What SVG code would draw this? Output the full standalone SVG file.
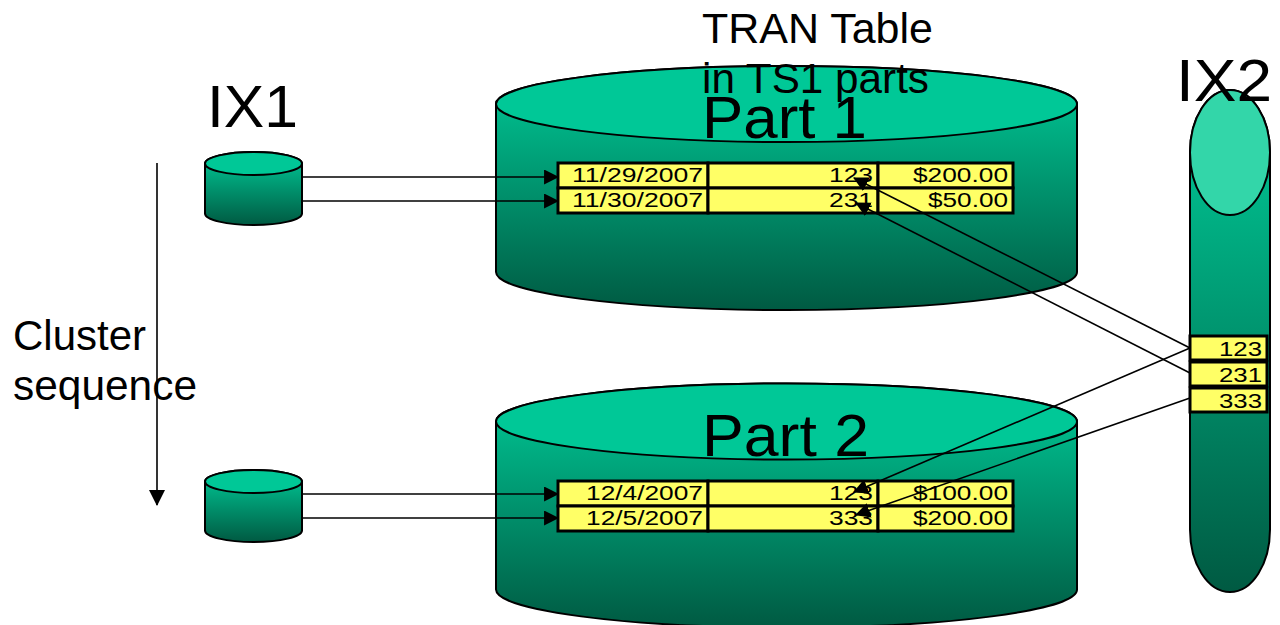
<svg xmlns="http://www.w3.org/2000/svg" width="1280" height="625" viewBox="0 0 1280 625">
  <defs>
    <linearGradient id="body" x1="0" y1="0" x2="0" y2="1">
      <stop offset="0" stop-color="#00CC99"/>
      <stop offset="1" stop-color="#005A42"/>
    </linearGradient>
    <marker id="head" viewBox="0 0 14 14" refX="13" refY="7" markerWidth="15" markerHeight="15" markerUnits="userSpaceOnUse" orient="auto">
      <path d="M0,0 L14,7 L0,14 Z" fill="#000"/>
    </marker>
    <marker id="headDown" viewBox="0 0 16 16" refX="15" refY="8" markerWidth="16" markerHeight="16" markerUnits="userSpaceOnUse" orient="auto">
      <path d="M0,0 L16,8 L0,16 Z" fill="#000"/>
    </marker>
  </defs>
  <style>
    .body { fill: url(#body); stroke: #000; stroke-width: 2; }
    .face { fill: #00C897; stroke: #000; stroke-width: 2; }
    .faceLight { fill: #33D6A9; stroke: #000; stroke-width: 2; }
    .cell { fill: #FFFF66; stroke: #000; stroke-width: 3; }
    .cellTxt { font-family: "Liberation Sans", Arial, sans-serif; font-size: 20.5px; fill: #000; text-anchor: end; }
    .big { font-family: "Liberation Sans", Arial, sans-serif; font-size: 60px; fill: #000; }
    .mid { font-family: "Liberation Sans", Arial, sans-serif; font-size: 42px; fill: #000; }
    .conn { stroke: #000; stroke-width: 1.6; fill: none; }
  </style>

  <rect width="1280" height="625" fill="#FFFFFF"/>

  <!-- Part 1 partition cylinder -->
  <g id="part1">
    <path class="body" d="M496,104 L496,272 A290.5,38 0 0 0 1077,272 L1077,104 A290.5,38 0 0 0 496,104 Z"/>
    <ellipse class="face" cx="786.5" cy="104" rx="290.5" ry="38"/>
    <text class="big" x="702" y="138" font-size="58" textLength="165" lengthAdjust="spacingAndGlyphs">Part 1</text>
    <g id="part1-rows">
      <rect class="cell" x="558" y="163" width="150" height="25"/>
      <rect class="cell" x="708" y="163" width="170" height="25"/>
      <rect class="cell" x="878" y="163" width="135" height="25"/>
      <rect class="cell" x="558" y="188" width="150" height="25"/>
      <rect class="cell" x="708" y="188" width="170" height="25"/>
      <rect class="cell" x="878" y="188" width="135" height="25"/>
      <text class="cellTxt" x="703" y="182" textLength="131" lengthAdjust="spacingAndGlyphs">11/29/2007</text>
      <text class="cellTxt" x="873" y="182" textLength="44" lengthAdjust="spacingAndGlyphs">123</text>
      <text class="cellTxt" x="1008" y="182" textLength="95" lengthAdjust="spacingAndGlyphs">$200.00</text>
      <text class="cellTxt" x="703" y="207" textLength="131" lengthAdjust="spacingAndGlyphs">11/30/2007</text>
      <text class="cellTxt" x="873" y="207" textLength="44" lengthAdjust="spacingAndGlyphs">231</text>
      <text class="cellTxt" x="1008" y="207" textLength="80" lengthAdjust="spacingAndGlyphs">$50.00</text>
    </g>
  </g>

  <!-- Part 2 partition cylinder -->
  <g id="part2">
    <path class="body" d="M496,421.5 L496,589.5 A290.5,38 0 0 0 1077,589.5 L1077,421.5 A290.5,38 0 0 0 496,421.5 Z"/>
    <ellipse class="face" cx="786.5" cy="421.5" rx="290.5" ry="38"/>
    <text class="big" x="702" y="456" font-size="58" textLength="167" lengthAdjust="spacingAndGlyphs">Part 2</text>
    <g id="part2-rows">
      <rect class="cell" x="558" y="481" width="150" height="25"/>
      <rect class="cell" x="708" y="481" width="170" height="25"/>
      <rect class="cell" x="878" y="481" width="135" height="25"/>
      <rect class="cell" x="558" y="506" width="150" height="25"/>
      <rect class="cell" x="708" y="506" width="170" height="25"/>
      <rect class="cell" x="878" y="506" width="135" height="25"/>
      <text class="cellTxt" x="703" y="500" textLength="117" lengthAdjust="spacingAndGlyphs">12/4/2007</text>
      <text class="cellTxt" x="873" y="500" textLength="44" lengthAdjust="spacingAndGlyphs">123</text>
      <text class="cellTxt" x="1008" y="500" textLength="95" lengthAdjust="spacingAndGlyphs">$100.00</text>
      <text class="cellTxt" x="703" y="525" textLength="117" lengthAdjust="spacingAndGlyphs">12/5/2007</text>
      <text class="cellTxt" x="873" y="525" textLength="44" lengthAdjust="spacingAndGlyphs">333</text>
      <text class="cellTxt" x="1008" y="525" textLength="95" lengthAdjust="spacingAndGlyphs">$200.00</text>
    </g>
  </g>

  <!-- Table title -->
  <g id="title">
    <text class="mid" x="702" y="43" textLength="231" lengthAdjust="spacingAndGlyphs">TRAN Table</text>
    <text class="mid" x="702" y="93" textLength="227" lengthAdjust="spacingAndGlyphs">in TS1 parts</text>
  </g>

  <!-- IX1 index pieces -->
  <g id="ix1-a">
    <path class="body" d="M205,163.5 L205,213.5 A48.5,11.5 0 0 0 302,213.5 L302,163.5 A48.5,11.5 0 0 0 205,163.5 Z"/>
    <ellipse class="face" cx="253.5" cy="163.5" rx="48.5" ry="11.5"/>
  </g>
  <g id="ix1-b">
    <path class="body" d="M205,481.5 L205,530.5 A48.5,11.5 0 0 0 302,530.5 L302,481.5 A48.5,11.5 0 0 0 205,481.5 Z"/>
    <ellipse class="face" cx="253.5" cy="481.5" rx="48.5" ry="11.5"/>
  </g>
  <text id="ix1-label" class="big" x="207" y="127" textLength="91" lengthAdjust="spacingAndGlyphs">IX1</text>

  <!-- IX2 index -->
  <g id="ix2">
    <path class="body" d="M1190,152.5 L1190,529.5 A40,62.5 0 0 0 1270,529.5 L1270,152.5 A40,62.5 0 0 0 1190,152.5 Z"/>
    <ellipse class="faceLight" cx="1230" cy="152.5" rx="40" ry="62.5"/>
    <rect class="cell" x="1190" y="336" width="77" height="24"/>
    <rect class="cell" x="1190" y="362" width="77" height="24"/>
    <rect class="cell" x="1190" y="388" width="77" height="24"/>
    <text class="cellTxt" x="1262" y="356" textLength="43" lengthAdjust="spacingAndGlyphs">123</text>
    <text class="cellTxt" x="1262" y="382" textLength="43" lengthAdjust="spacingAndGlyphs">231</text>
    <text class="cellTxt" x="1262" y="408" textLength="43" lengthAdjust="spacingAndGlyphs">333</text>
    <text class="big" x="1176" y="101" textLength="96" lengthAdjust="spacingAndGlyphs">IX2</text>
  </g>

  <!-- Cluster sequence -->
  <g id="cluster">
    <text class="mid" x="13" y="350" textLength="133" lengthAdjust="spacingAndGlyphs">Cluster</text>
    <text class="mid" x="13" y="400" textLength="184" lengthAdjust="spacingAndGlyphs">sequence</text>
  </g>

  <!-- Connectors -->
  <g id="connectors">
    <line class="conn" x1="157" y1="163" x2="157" y2="505" marker-end="url(#headDown)"/>
    <line class="conn" x1="302" y1="177" x2="558" y2="177" marker-end="url(#head)"/>
    <line class="conn" x1="302" y1="201" x2="558" y2="201" marker-end="url(#head)"/>
    <line class="conn" x1="302" y1="494" x2="558" y2="494" marker-end="url(#head)"/>
    <line class="conn" x1="302" y1="518" x2="558" y2="518" marker-end="url(#head)"/>
    <line class="conn" x1="1190" y1="348" x2="854" y2="178" marker-end="url(#head)"/>
    <line class="conn" x1="1190" y1="373" x2="856" y2="203" marker-end="url(#head)"/>
    <line class="conn" x1="1190" y1="348" x2="854" y2="492" marker-end="url(#head)"/>
    <line class="conn" x1="1190" y1="398" x2="856" y2="515" marker-end="url(#head)"/>
  </g>
</svg>
